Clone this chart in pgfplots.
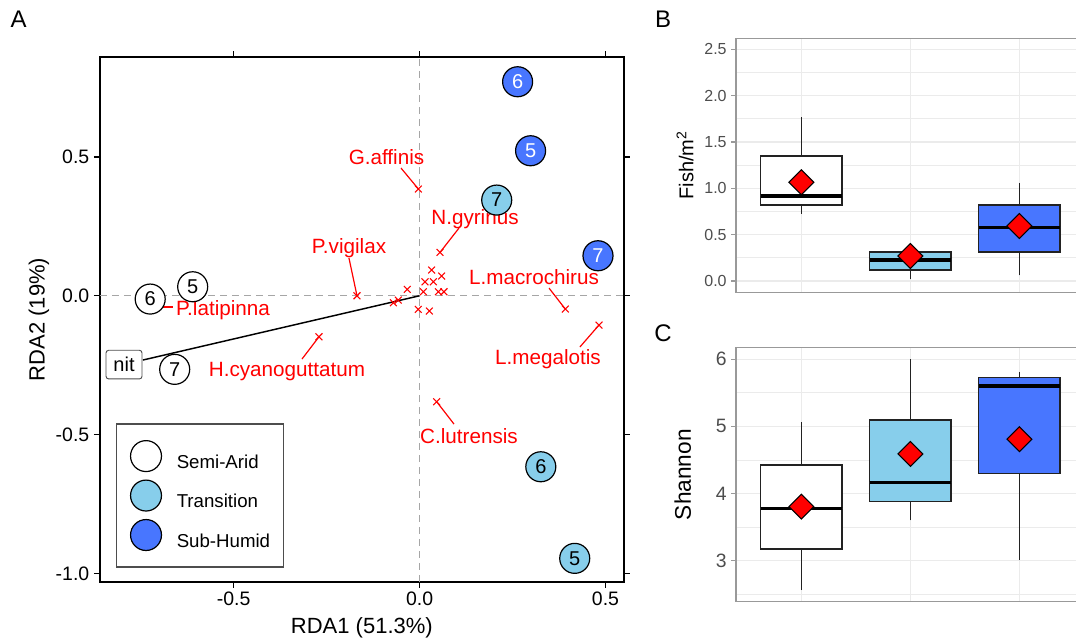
\documentclass[border=0pt]{standalone}
\usepackage{fontspec}
\setmainfont{Liberation Sans}
\usepackage{pgfplots}
\pgfplotsset{compat=1.18}
\usepgfplotslibrary{statistics}
\definecolor{skyb}{HTML}{87CEEB}
\definecolor{royal}{HTML}{4876FF}
\definecolor{gridc}{HTML}{EBEBEB}
\definecolor{borderc}{HTML}{999999}
\definecolor{grey30}{HTML}{4D4D4D}
\definecolor{boxc}{HTML}{222222}
\definecolor{dashc}{HTML}{A6A6A6}
\newcommand{\fs}[1]{\fontsize{#1}{#1}\selectfont}
\begin{document}
\begin{tikzpicture}
\path[use as bounding box] (0,0) rectangle (807pt,479.25pt);
% ---------------- Panel A ----------------
\begin{axis}[
  at={(75pt,42.98pt)}, anchor=south west, scale only axis,
  width=392.8pt, height=393.3pt,
  xmin=-0.8596, xmax=0.549, ymin=-1.030, ymax=0.859,
  xtick={-0.5,0,0.5}, ytick={-1,-0.5,0,0.5},
  tick align=outside, major tick length=4.5pt,
  tick style={black, line width=0.9pt},
  axis line style={black, line width=1.4pt},
  ticklabel style={font=\fs{14.6}, /pgf/number format/fixed, /pgf/number format/fixed zerofill, /pgf/number format/precision=1, /pgf/number format/assume math mode=true},
  xlabel={RDA1 (51.3\%)}, ylabel={RDA2 (19\%)},
  label style={font=\fs{16.5}},
  xlabel style={at={(axis description cs:0.5,-0.0883)}, anchor=center},
  ylabel style={at={(axis description cs:-0.1165,0.5)}, anchor=center},
  clip=false,
  legend style={at={(axis description cs:0.0306,0.0267)}, anchor=south west, draw=grey30, line width=0.9pt, font=\fs{14}, inner xsep=10pt, inner ysep=12pt, row sep=5.5pt, column sep=11pt, nodes={inner sep=0pt}},
  legend cell align=left,
]
% reference lines
\addplot[forget plot, dashc, line width=0.8pt, dash pattern=on 5pt off 4pt] coordinates {(0,-1.030) (0,0.859)};
\addplot[forget plot, dashc, line width=0.8pt, dash pattern=on 5pt off 4pt] coordinates {(-0.8596,0) (0.549,0)};
% environmental vector
\addplot[forget plot, black, line width=1.1pt] coordinates {(0,0) (-0.7443,-0.2316)};
% leader lines
\addplot[forget plot, red, line width=0.9pt] coordinates {(-0.0032,0.3844) (-0.050,0.460)};
\addplot[forget plot, red, line width=0.9pt] coordinates {(0.0549,0.1563) (0.106,0.2439)};
\addplot[forget plot, red, line width=0.9pt] coordinates {(-0.1684,0.0) (-0.190,0.1358)};
\addplot[forget plot, red, line width=0.9pt] coordinates {(0.3919,-0.0479) (0.348,0.0277)};
\addplot[forget plot, red, line width=0.9pt] coordinates {(0.4825,-0.1055) (0.431,-0.1848)};
\addplot[forget plot, red, line width=0.9pt] coordinates {(-0.2706,-0.1477) (-0.3163,-0.228)};
\addplot[forget plot, red, line width=0.9pt] coordinates {(0.046,-0.3818) (0.0925,-0.4622)};
\addplot[forget plot, red, line width=0.9pt] coordinates {(-0.6902,-0.0407) (-0.6633,-0.0407)};
% species scores
\addplot[forget plot, only marks, mark=x, mark size=3.6pt, red, line width=0.8pt] table {
x y
-0.0032 0.3844
0.0549 0.1563
-0.1684 0.0
0.3919 -0.0479
0.4825 -0.1055
-0.2706 -0.1477
0.046 -0.3818
-0.7063 -0.030
0.0325 0.0926
0.0594 0.0710
0.0145 0.0504
0.0368 0.0504
0.010 0.0144
0.0503 0.0144
0.0656 0.0144
-0.0331 0.0231
-0.0573 -0.0155
-0.0707 -0.0252
-0.0035 -0.0490
0.0261 -0.0551
};
% species labels
\node[text=red, font=\fs{15.5}] at (axis cs:-0.089,0.4996) {G.affinis};
\node[text=red, font=\fs{15.5}] at (axis cs:0.149,0.2763) {N.gyrinus};
\node[text=red, font=\fs{15.5}] at (axis cs:-0.19,0.1718) {P.vigilax};
\node[text=red, font=\fs{15.5}] at (axis cs:0.3077,0.0674) {L.macrochirus};
\node[text=red, font=\fs{15.5}] at (axis cs:-0.5288,-0.0515) {P.latipinna};
\node[text=red, font=\fs{15.5}] at (axis cs:-0.3566,-0.2713) {H.cyanoguttatum};
\node[text=red, font=\fs{15.5}] at (axis cs:0.3453,-0.228) {L.megalotis};
\node[text=red, font=\fs{15.5}] at (axis cs:0.1329,-0.5054) {C.lutrensis};
% sites
\addplot[forget plot, only marks, mark=*, mark size=11.25pt, mark options={fill=white, draw=black, line width=0.9pt},
  nodes near coords, point meta=explicit symbolic,
  every node near coord/.append style={anchor=center, font=\fs{15}, text=black}] table[meta=lab] {
x y lab
-0.6103 0.0324 5
-0.7246 -0.0119 6
-0.6587 -0.2651 7
};
\addplot[forget plot, only marks, mark=*, mark size=11.25pt, mark options={fill=skyb, draw=black, line width=0.9pt},
  nodes near coords, point meta=explicit symbolic,
  every node near coord/.append style={anchor=center, font=\fs{15}, text=black}] table[meta=lab] {
x y lab
0.2074 0.3447 7
0.326 -0.616 6
0.4172 -0.946 5
};
\addplot[forget plot, only marks, mark=*, mark size=11.25pt, mark options={fill=royal, draw=black, line width=0.9pt},
  nodes near coords, point meta=explicit symbolic,
  every node near coord/.append style={anchor=center, font=\fs{15}, text=white}] table[meta=lab] {
x y lab
0.2636 0.7709 6
0.2985 0.5223 5
0.4798 0.1441 7
};
\node[draw=grey30, fill=white, rounded corners=2pt, font=\fs{15}, inner sep=0pt, minimum width=27pt, minimum height=21.5pt, line width=0.7pt] at (axis cs:-0.795,-0.248) {nit};
% legend
\addlegendimage{legend image code/.code={\draw[black, fill=white, line width=0.9pt] (11.6pt,5pt) circle (11.6pt);}}
\addlegendentry{Semi-Arid}
\addlegendimage{legend image code/.code={\draw[black, fill=skyb, line width=0.9pt] (11.6pt,5pt) circle (11.6pt);}}
\addlegendentry{Transition}
\addlegendimage{legend image code/.code={\draw[black, fill=royal, line width=0.9pt] (11.6pt,5pt) circle (11.6pt);}}
\addlegendentry{Sub-Humid}
\end{axis}
% ---------------- Panel B ----------------
\begin{axis}[
  at={(552pt,260pt)}, anchor=south west, scale only axis,
  width=261.6pt, height=190.5pt,
  xmin=0.4, xmax=3.6, ymin=-0.122, ymax=2.619,
  xtick={1,2,3}, xticklabels={},
  ytick={0,0.5,1,1.5,2,2.5}, minor ytick={0.25,0.75,1.25,1.75,2.25},
  grid=both, major grid style={draw=gridc, line width=1.1pt}, minor grid style={draw=gridc, line width=0.6pt},
  axis line style={draw=borderc, line width=1pt},
  xtick style={draw=none}, ytick style={draw=borderc, line width=0.8pt},
  minor tick length=0pt, tick align=outside, major tick length=3.5pt,
  ytick pos=left,
  yticklabel style={font=\fs{12}, text=grey30, /pgf/number format/fixed, /pgf/number format/fixed zerofill, /pgf/number format/precision=1, /pgf/number format/assume math mode=true},
  ylabel={Fish/m\textsuperscript{2}},
  ylabel style={at={(axis description cs:-0.1462,0.5)}, anchor=center, font=\fs{15}},
  boxplot/draw direction=y,
  boxplot/every box/.style={draw=boxc, line width=1.3pt},
  boxplot/every median/.style={draw=black, line width=2.6pt},
  boxplot/whisker extend=0,
  boxplot/box extend=0.75,
]
% whiskers
\addplot[forget plot, boxc, line width=1.3pt] coordinates {(1,0.724) (1,0.821)};
\addplot[forget plot, boxc, line width=1.3pt] coordinates {(1,1.353) (1,1.774)};
\addplot[forget plot, boxc, line width=1.3pt] coordinates {(2,0.018) (2,0.119)};
\addplot[forget plot, boxc, line width=1.3pt] coordinates {(2,0.31) (2,0.32)};
\addplot[forget plot, boxc, line width=1.3pt] coordinates {(3,0.062) (3,0.313)};
\addplot[forget plot, boxc, line width=1.3pt] coordinates {(3,0.821) (3,1.062)};
\addplot[boxplot prepared={draw position=1, lower whisker=0.724, lower quartile=0.821, median=0.918, upper quartile=1.353, upper whisker=1.774}, draw=boxc, fill=white, line width=1.3pt] coordinates {};
\addplot[boxplot prepared={draw position=2, lower whisker=0.018, lower quartile=0.119, median=0.227, upper quartile=0.31, upper whisker=0.32}, draw=boxc, fill=skyb, line width=1.3pt] coordinates {};
\addplot[boxplot prepared={draw position=3, lower whisker=0.062, lower quartile=0.313, median=0.576, upper quartile=0.821, upper whisker=1.062}, draw=boxc, fill=royal, line width=1.3pt] coordinates {};
\addplot[only marks, mark=square*, mark size=6.6pt, mark options={rotate=45, fill=red, draw=black, line width=0.8pt}] coordinates {(1,1.066) (2,0.27) (3,0.594)};
\end{axis}
% ---------------- Panel C ----------------
\begin{axis}[
  at={(552pt,27.98pt)}, anchor=south west, scale only axis,
  width=261.6pt, height=190.5pt,
  xmin=0.4, xmax=3.6, ymin=2.389, ymax=6.173,
  xtick={1,2,3}, xticklabels={},
  ytick={3,4,5,6}, minor ytick={2.5,3.5,4.5,5.5},
  grid=both, major grid style={draw=gridc, line width=1.1pt}, minor grid style={draw=gridc, line width=0.6pt},
  axis line style={draw=borderc, line width=1pt},
  xtick style={draw=none}, ytick style={draw=borderc, line width=0.8pt},
  minor tick length=0pt, tick align=outside, major tick length=3.5pt,
  ytick pos=left,
  yticklabel style={font=\fs{14.5}, text=grey30, /pgf/number format/assume math mode=true},
  ylabel={Shannon},
  ylabel style={at={(axis description cs:-0.1528,0.5)}, anchor=center, font=\fs{17}},
  boxplot/draw direction=y,
  boxplot/every box/.style={draw=boxc, line width=1.3pt},
  boxplot/every median/.style={draw=black, line width=2.6pt},
  boxplot/whisker extend=0,
  boxplot/box extend=0.75,
]
% whiskers
\addplot[forget plot, boxc, line width=1.3pt] coordinates {(1,2.563) (1,3.17)};
\addplot[forget plot, boxc, line width=1.3pt] coordinates {(1,4.43) (1,5.07)};
\addplot[forget plot, boxc, line width=1.3pt] coordinates {(2,3.6) (2,3.88)};
\addplot[forget plot, boxc, line width=1.3pt] coordinates {(2,5.097) (2,6.0)};
\addplot[forget plot, boxc, line width=1.3pt] coordinates {(3,3.01) (3,4.30)};
\addplot[forget plot, boxc, line width=1.3pt] coordinates {(3,5.727) (3,5.817)};
\addplot[boxplot prepared={draw position=1, lower whisker=2.563, lower quartile=3.17, median=3.775, upper quartile=4.43, upper whisker=5.07}, draw=boxc, fill=white, line width=1.3pt] coordinates {};
\addplot[boxplot prepared={draw position=2, lower whisker=3.6, lower quartile=3.88, median=4.163, upper quartile=5.097, upper whisker=6.0}, draw=boxc, fill=skyb, line width=1.3pt] coordinates {};
\addplot[boxplot prepared={draw position=3, lower whisker=3.01, lower quartile=4.30, median=5.6, upper quartile=5.727, upper whisker=5.817}, draw=boxc, fill=royal, line width=1.3pt] coordinates {};
\addplot[only marks, mark=square*, mark size=6.6pt, mark options={rotate=45, fill=red, draw=black, line width=0.8pt}] coordinates {(1,3.805) (2,4.59) (3,4.81)};
\end{axis}
% panel letters
\node[font=\fs{18}] at (13.9pt,464.6pt) {A};
\node[font=\fs{18}] at (497.25pt,464.6pt) {B};
\node[font=\fs{18}] at (497.25pt,229.1pt) {C};
\end{tikzpicture}
\end{document}
